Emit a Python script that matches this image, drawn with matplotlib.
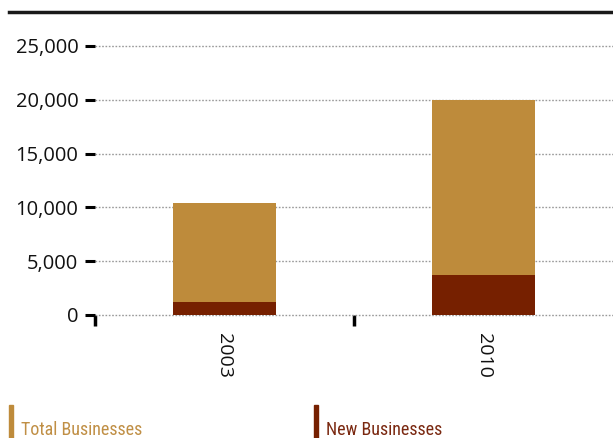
import matplotlib
matplotlib.use("Agg")
from matplotlib import pyplot as plt
from matplotlib import font_manager
from matplotlib.lines import Line2D
from matplotlib.patches import Rectangle

# Business counts by year
YEARS = ["2003", "2010"]
TOTAL_BUSINESSES = [10400, 20000]
NEW_BUSINESSES = [1200, 3700]
Y_TICKS = [0, 5000, 10000, 15000, 20000, 25000]

COLOR_TOTAL = "#BE8B3B"
COLOR_NEW = "#762000"

W, H = 613, 438


def pick_narrow_font():
    names = {f.name for f in font_manager.fontManager.ttflist}
    for name in ["Liberation Sans Narrow", "DejaVu Sans Condensed", "Roboto Condensed", "Open Sans Condensed"]:
        if name in names:
            return name, "normal"
    return "DejaVu Sans", "condensed"


def main():
    plt.rcParams["font.family"] = ["Open Sans", "DejaVu Sans"]

    fig = plt.figure(figsize=(W / 100, H / 100), dpi=100)
    ax_bottom = (H - 315) / H
    ax_height = (315 - 46) / H
    ax = fig.add_axes([95 / W, ax_bottom, 1 - 95 / W, ax_height])

    xs = [0.5 + i for i in range(len(YEARS))]
    # total drawn full height, new businesses overlaid at the base
    ax.bar(xs, TOTAL_BUSINESSES, width=0.4, color=COLOR_TOTAL, zorder=2)
    ax.bar(xs, NEW_BUSINESSES, width=0.4, color=COLOR_NEW, zorder=3)

    ax.set_xlim(0, len(YEARS))
    ax.set_ylim(0, 25000)
    ax.set_yticks(Y_TICKS)
    ax.set_yticklabels([f"{v:,}" for v in Y_TICKS])
    ax.yaxis.grid(True, color="#9a9a9a", linestyle=(0, (1.2, 1.2)), linewidth=1.0, zorder=1)
    for gl in ax.get_ygridlines():
        gl.set_clip_on(False)
    ax.tick_params(axis="y", length=7, width=2.2, pad=5, labelsize=14.5, color="black",
                   labelcolor="#111111")

    # category boundaries as ticks, year labels centred in each band
    ax.set_xticks([0, 1])
    ax.set_xticklabels([])
    ax.set_xticks(xs, minor=True)
    ax.set_xticklabels(YEARS, minor=True, rotation=270, fontsize=14, color="#111111")
    ax.tick_params(axis="x", which="major", length=8, width=2.5, color="black")
    ax.tick_params(axis="x", which="minor", length=0, pad=13)

    for side in ["top", "right", "left", "bottom"]:
        ax.spines[side].set_visible(False)

    # heavy rule across the top
    fig.add_artist(Line2D([9 / W, 1], [1 - 12 / H] * 2, color="#1a1a1a", linewidth=2.5))

    # legend along the bottom edge
    narrow, stretch = pick_narrow_font()
    print("legend font:", narrow, stretch)
    legend = [("Total Businesses", COLOR_TOTAL, "#C08F45", 9), ("New Businesses", COLOR_NEW, "#7A2810", 314)]
    for label, color, text_color, x in legend:
        fig.add_artist(Rectangle((x / W, 0), 3.5 / W, 33 / H, color=color, transform=fig.transFigure))
        fig.text((x + 12) / W, 3 / H, label, color=text_color, fontsize=13,
                 family=[narrow, "DejaVu Sans"], stretch=stretch, va="baseline")

    fig.savefig("out.png", dpi=100)


if __name__ == '__main__':
    main()
